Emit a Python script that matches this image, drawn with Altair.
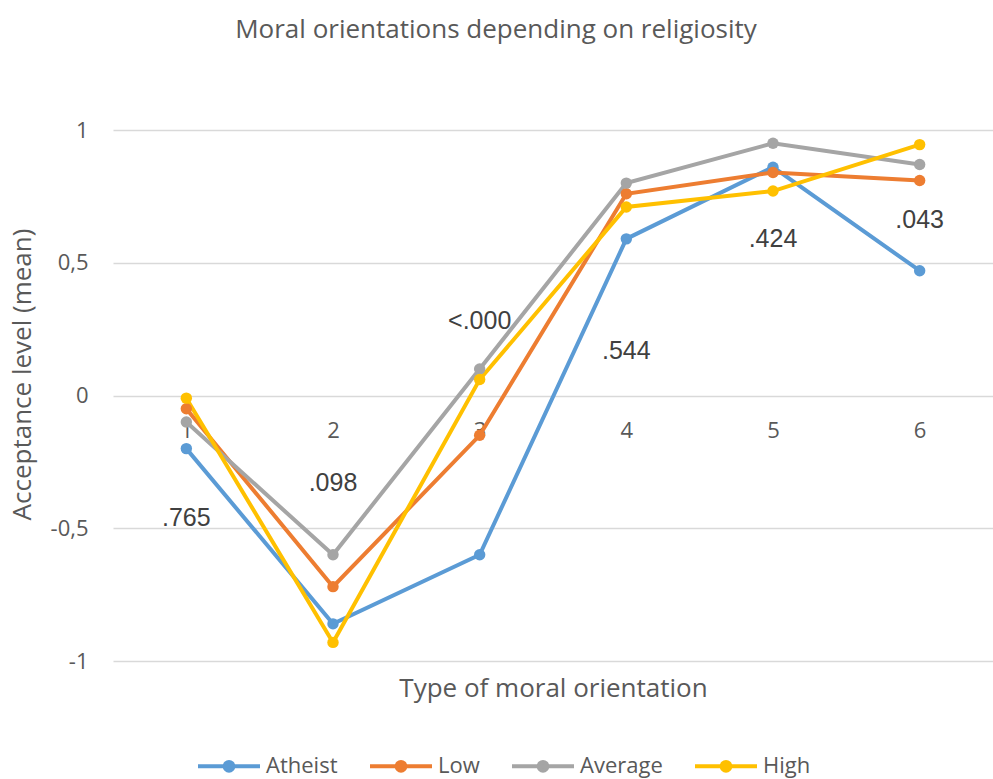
import altair as alt
import pandas as pd

# Mean acceptance level per type of moral orientation, by religiosity group
orientation = [1, 2, 3, 4, 5, 6]
groups = ["Atheist", "Low", "Average", "High"]
atheist = [-0.20, -0.86, -0.60, 0.59, 0.86, 0.47]
low = [-0.05, -0.72, -0.15, 0.76, 0.84, 0.81]
average = [-0.10, -0.60, 0.10, 0.80, 0.95, 0.87]
high = [-0.01, -0.93, 0.06, 0.71, 0.77, 0.945]
palette = ["#5B9BD5", "#ED7D31", "#A5A5A5", "#FFC000"]

# Significance (p) of the group difference for each orientation type
p_values = [".765", ".098", "<.000", ".544", ".424", ".043"]
p_label_level = [-0.46, -0.33, 0.28, 0.166, 0.59, 0.66]

series = [atheist, low, average, high]
rows = []
for g, vals in zip(groups, series):
    for t, v in zip(orientation, vals):
        rows.append({"type": t, "group": g, "value": v})
df = pd.DataFrame(rows)
df_p = pd.DataFrame({"type": orientation, "p": p_values, "level": p_label_level})

TXT = "#595959"
FONT = "Open Sans"

x_enc = alt.X(
    "type:O",
    axis=alt.Axis(
        title="Type of moral orientation",
        labelAngle=0,
        offset=-265.5,
        domain=False,
        ticks=False,
        tickSize=0,
        labelPadding=35,
        labelBaseline="middle",
        titleY=292.5,
        titleBaseline="middle",
        titlePadding=0,
    ),
)
y_enc = alt.Y(
    "value:Q",
    scale=alt.Scale(domain=[-1, 1], nice=False),
    axis=alt.Axis(
        title="Acceptance level (mean)",
        values=[-1, -0.5, 0, 0.5, 1],
        labelExpr="replace(toString(datum.value), '.', ',')",
        domain=False,
        ticks=False,
        tickSize=0,
        labelPadding=25,
        titleX=-91,
        titleY=244,
        titleBaseline="middle",
        titleAngle=-90,
    ),
)
color_enc = alt.Color(
    "group:N",
    scale=alt.Scale(domain=groups, range=palette),
    sort=groups,
    legend=alt.Legend(
        title=None,
        orient="none",
        direction="horizontal",
        legendX=83,
        legendY=603,
        symbolType="M -1 0 L 1 0 M -0.14 0 A 0.14 0.14 0 1 0 0.14 0 A 0.14 0.14 0 1 0 -0.14 0 Z",
        symbolSize=3844,
        symbolStrokeWidth=4,
        labelOffset=4,
        columnPadding=24,
    ),
)

base = alt.Chart(df)
lines = base.mark_line(strokeWidth=4).encode(x=x_enc, y=y_enc, color=color_enc)
points = base.mark_point(filled=True, size=130, opacity=1).encode(
    x=x_enc, y=y_enc, color=color_enc
)
p_text = alt.Chart(df_p).mark_text(
    font="Liberation Sans", fontSize=25, color="#404040", baseline="middle"
).encode(x=alt.X("type:O"), y=alt.Y("level:Q"), text="p:N")

chart = (
    alt.layer(lines, points, p_text)
    .properties(
        width=880,
        height=531,
        autosize=alt.AutoSizeParams(type="none"),
        padding={"left": 113, "top": 130, "right": 0, "bottom": 118},
        title=alt.TitleParams(
            "Moral orientations depending on religiosity",
            font=FONT,
            fontSize=26,
            fontWeight="normal",
            color=TXT,
            anchor="middle",
            dx=-57,
            offset=63,
            baseline="middle",
        ),
    )
    .configure_view(stroke=None)
    .configure_axis(
        labelFont=FONT,
        labelFontSize=22,
        labelColor=TXT,
        titleFont=FONT,
        titleFontSize=26,
        titleFontWeight="normal",
        titleColor=TXT,
        gridColor="#D9D9D9",
        gridWidth=1.3,
    )
    .configure_axisX(grid=False)
    .configure_legend(labelFont=FONT, labelFontSize=22, labelColor=TXT)
)

chart.save("out.html", embed_options={"renderer": "svg", "actions": False})
